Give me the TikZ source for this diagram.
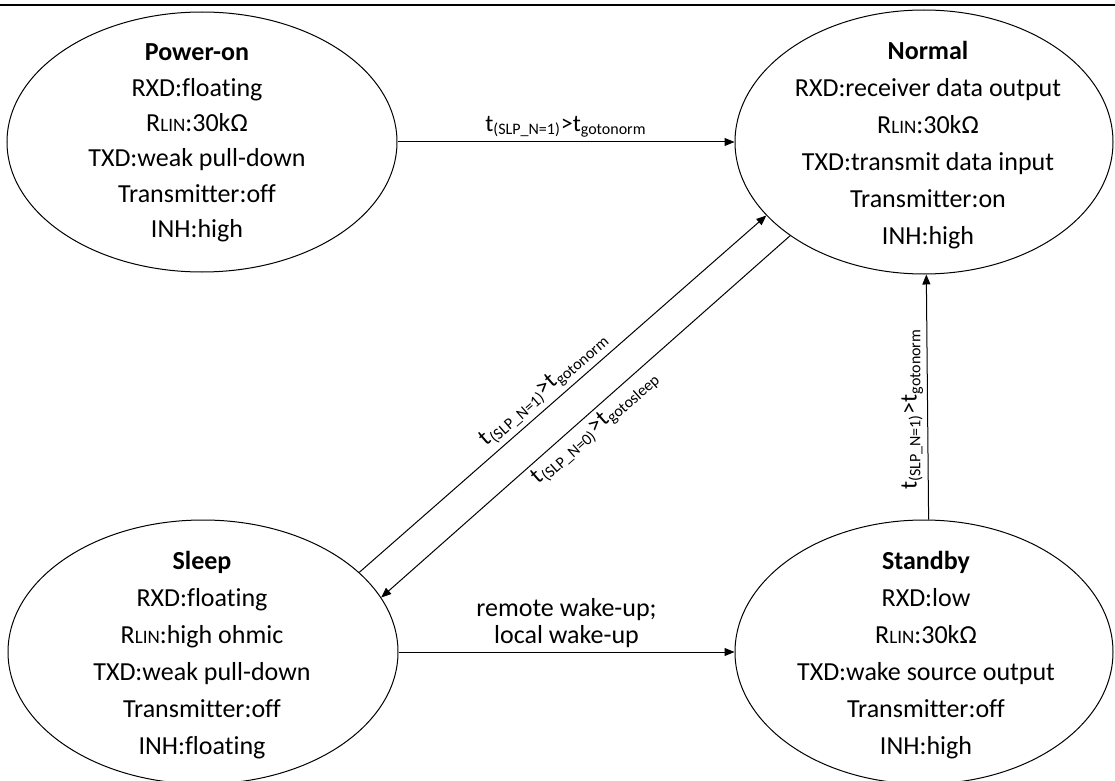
\documentclass[tikz,border=0pt]{standalone}
\usepackage{fontspec}
\setmainfont{Carlito}[Ligatures=NoCommon]
\usetikzlibrary{shapes.geometric,arrows.meta}

\newcommand{\rlin}{R{\fontsize{9.5}{9.5}\selectfont LIN}}
\newcommand{\tcond}[2]{t\textsubscript{(#1)}>t\textsubscript{#2}}

\begin{document}
\begin{tikzpicture}[x=0.5pt,y=-0.5pt,
        state/.style={draw,ellipse,line width=0.5pt,inner sep=0pt},
        statetext/.style={align=center,font=\fontsize{13}{18.5}\selectfont},
        trans/.style={-{Triangle[length=5pt,width=4pt]},line width=0.5pt},
        cond/.style={font=\fontsize{12}{12}\selectfont,inner sep=2pt}
    ]

    \useasboundingbox (0,0) rectangle (1115,781);
    \draw[line width=1.2pt] (0,5) -- (1115,5);

    \node[state,minimum width=195pt,minimum height=130pt] (poweron) at (202,142) {};
    \node[state,minimum width=189pt,minimum height=132pt] (normal) at (924,142) {};
    \node[state,minimum width=195pt,minimum height=132pt] (sleep) at (203,652) {};
    \node[state,minimum width=189pt,minimum height=132pt] (standby) at (924,652) {};

    \node[statetext,font=\fontsize{13}{17.7}\selectfont] (poweron-text) at (197,143)
        {\textbf{Power-on}\\RXD:floating\\\rlin:30kΩ\\TXD:weak pull-down\\Transmitter:off\\INH:high};
    \node[statetext] (normal-text) at (928,145)
        {\textbf{Normal}\\RXD:receiver data output\\\rlin:30kΩ\\TXD:transmit data input\\Transmitter:on\\INH:high};
    \node[statetext] (sleep-text) at (202,655)
        {\textbf{Sleep}\\RXD:floating\\\rlin:high ohmic\\TXD:weak pull-down\\Transmitter:off\\INH:floating};
    \node[statetext] (standby-text) at (926,655)
        {\textbf{Standby}\\RXD:low\\\rlin:30kΩ\\TXD:wake source output\\Transmitter:off\\INH:high};

    \draw[trans] (poweron.east) -- node[cond,above] {\tcond{SLP\_N=1}{gotonorm}} (normal.west);
    \draw[trans] (sleep.27.3) -- node[cond,above,sloped,pos=0.48] {\tcond{SLP\_N=1}{gotonorm}} (normal.205.1);
    \draw[{Triangle[length=5pt,width=4pt]}-,line width=0.5pt] (sleep.17.6) -- node[cond,below,sloped] {\tcond{SLP\_N=0}{gotosleep}} (normal.215.7);
    \draw[trans] (standby.88.3) -- node[cond,rotate=90,anchor=south,pos=0.45] {\tcond{SLP\_N=1}{gotonorm}} (normal.271.7);
    \draw[trans] (sleep.east) -- node[cond,above,align=center,font=\fontsize{13}{13.5}\selectfont] {remote wake-up;\\local wake-up} (standby.west);

\end{tikzpicture}
\end{document}
